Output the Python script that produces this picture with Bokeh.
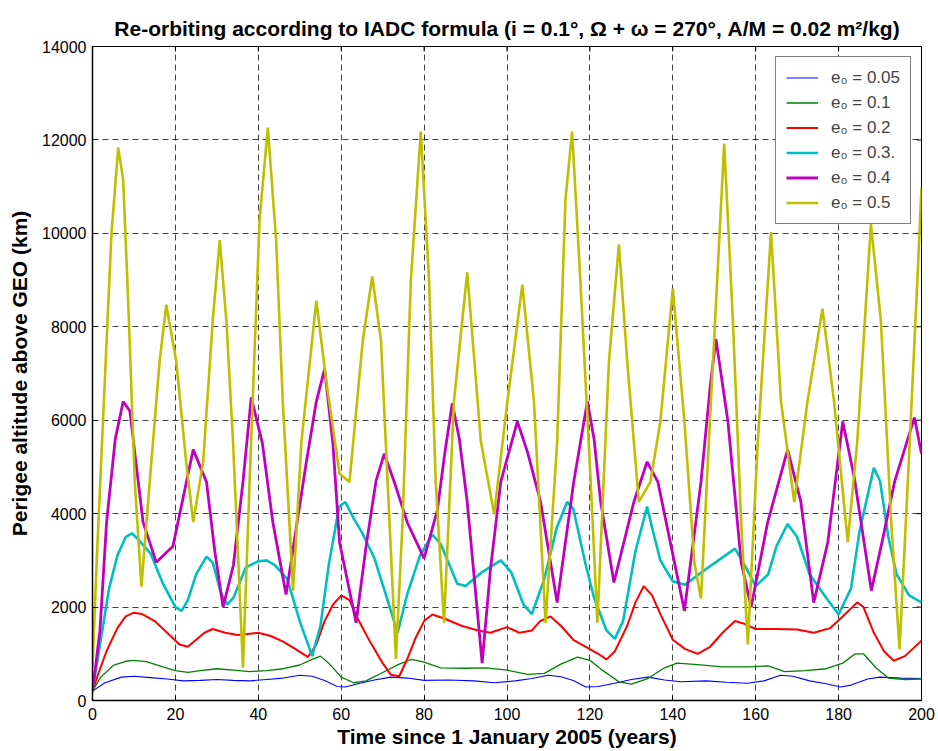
import math
from bokeh.plotting import figure
from bokeh.models import Range1d, Legend, LegendItem
from bokeh.embed import file_html
from bokeh.resources import INLINE

# ---------------- data ----------------
x_ticks = [0, 20, 40, 60, 80, 100, 120, 140, 160, 180, 200]
y_ticks = [0, 2000, 4000, 6000, 8000, 10000, 12000, 14000]

series_labels = ["e₀ = 0.05", "e₀ = 0.1", "e₀ = 0.2", "e₀ = 0.3.", "e₀ = 0.4", "e₀ = 0.5"]

t_005 = [0, 3, 7, 10, 14, 18, 22, 26, 30, 34, 38, 42, 46, 50, 53, 56, 59, 61, 64, 68, 72, 76,
         80, 86, 92, 97, 102, 106, 110, 113, 116, 119, 122, 126, 130, 134, 138, 142, 148, 153,
         158, 162, 166, 169, 173, 177, 180.5, 183, 187, 190, 195, 200]
h_005 = [200, 380, 500, 520, 490, 460, 420, 430, 450, 430, 420, 450, 480, 540, 520, 430, 300,
         290, 360, 440, 500, 480, 430, 440, 420, 380, 420, 470, 540, 510, 430, 290, 300, 370,
         450, 500, 440, 400, 420, 390, 370, 420, 540, 520, 420, 360, 290, 330, 460, 500, 480,
         470]

t_01 = [0, 2, 5, 8, 10, 13, 17, 20, 23, 26, 30, 34, 38, 42, 46, 50, 53, 55, 57, 60, 63, 66,
        70, 74, 77, 80, 84, 90, 95, 100, 105, 109, 113, 117, 120, 123, 127, 130, 134, 138, 141,
        146, 152, 158, 163, 167, 172, 177, 181, 184, 186, 189, 192, 196, 200]
h_01 = [200, 500, 750, 840, 860, 830, 720, 640, 600, 640, 680, 650, 620, 640, 680, 760, 880,
        950, 800, 500, 380, 420, 600, 780, 880, 820, 700, 690, 700, 650, 560, 580, 780, 930,
        860, 650, 400, 350, 470, 700, 800, 770, 720, 720, 740, 620, 640, 680, 800, 1000, 1000,
        700, 480, 450, 460]

t_02 = [0, 1.5, 3.4, 6, 8, 10, 12, 15, 18, 21, 23, 25, 27, 29, 32, 35, 38, 40, 43, 46, 49, 52,
        54, 56, 58, 60, 62, 64, 67, 70, 72, 74, 76, 78, 80, 82, 85, 89, 93, 96, 100, 103, 106,
        108, 110.5, 113, 116, 119, 122, 124, 126, 129, 131, 133, 135, 137, 140, 143, 146, 149,
        152, 155, 157, 160, 165, 170, 174, 178, 181, 184.5, 186, 188.5, 191, 193.3, 196, 200]
h_02 = [200, 600, 1060, 1550, 1800, 1880, 1850, 1700, 1450, 1200, 1150, 1300, 1450, 1530,
        1450, 1400, 1430, 1450, 1380, 1260, 1100, 930, 1200, 1700, 2050, 2250, 2150, 1750,
        1250, 800, 550, 520, 900, 1350, 1700, 1840, 1750, 1600, 1500, 1450, 1570, 1450, 1500,
        1700, 1800, 1600, 1300, 1150, 1000, 880, 1050, 1600, 2100, 2450, 2250, 1850, 1300,
        1100, 1000, 1150, 1450, 1700, 1650, 1530, 1530, 1520, 1450, 1550, 1800, 2100, 2000,
        1450, 1050, 850, 950, 1280]

t_03 = [0, 2, 4, 6, 8, 9.5, 11, 14, 17, 20, 21.5, 23, 25, 27.5, 29, 31, 32.5, 34, 37, 40, 42,
        44, 47, 50, 53, 55, 57, 59.5, 61, 63, 65, 68, 71, 73.6, 76, 79, 82, 84, 88, 90, 94,
        98.5, 101, 104, 106, 109, 112, 114.5, 116, 119, 121, 124, 126, 128, 131, 133.8, 135,
        137, 140, 143, 147, 151, 155, 157, 160, 163, 165, 167.7, 170, 173, 177, 180, 183, 185,
        188.5, 190, 192, 194, 197, 200]
h_03 = [200, 1300, 2400, 3100, 3500, 3580, 3450, 3150, 2500, 2000, 1920, 2150, 2700, 3080,
        2950, 2300, 2050, 2200, 2850, 2980, 3000, 2900, 2600, 1700, 950, 1600, 2900, 4150, 4250,
        3900, 3600, 3050, 2200, 1450, 2300, 3100, 3550, 3350, 2500, 2450, 2750, 3000, 2750,
        2050, 1850, 2600, 3700, 4250, 4100, 2900, 2200, 1500, 1320, 1700, 3200, 4150, 3700,
        3000, 2550, 2480, 2750, 3000, 3250, 2950, 2450, 2700, 3300, 3780, 3500, 2700, 2200,
        1840, 2400, 3600, 4980, 4700, 3500, 2700, 2250, 2100]

t_04 = [0, 1.8, 3.4, 5.5, 7.4, 9, 12.2, 15.4, 19.4, 22, 24.3, 27.5, 29.5, 31.5, 34, 36.3, 38.3,
        41, 43.5, 46.7, 49, 51.6, 54, 56, 58, 59.6, 63.6, 66, 68.4, 70.4, 72.8, 76, 80, 83.2,
        85, 86.8, 88.5, 90.4, 94, 96, 98.5, 102.5, 105, 108.1, 112.1, 116.1, 119.4, 121,
        122.6, 125.8, 130.6, 133.8, 136.4, 140.4, 142.8, 146.8, 149, 150.4, 153.3, 156.5,
        158.9, 162.9, 167.7, 170.9, 174, 177.4, 181, 183.8, 187.9, 190.5, 193.5, 198.3, 200]
h_04 = [200, 1500, 3819, 5600, 6400, 6200, 3819, 2957, 3300, 4400, 5370, 4680, 3200, 2000,
        2900, 4680, 6490, 5500, 3819, 2267, 3600, 5110, 6400, 7094, 5500, 3388, 1664, 3300,
        4700, 5284, 4680, 3800, 3043, 4077, 5300, 6362, 5600, 4250, 802, 2800, 4680, 5974,
        5300, 4250, 2095, 4680, 6405, 5600, 4250, 2526, 4250, 5110, 4680, 2957, 1922, 4680,
        6700, 7741, 5974, 2957, 2000, 3819, 5370, 4250, 2095, 3388, 5974, 4767, 2353, 3400,
        4680, 6060, 5284]

t_05 = [0, 1, 3.4, 4.6, 6.2, 7.4, 8.6, 10.2, 11.8, 13.8, 16.2, 17.8, 20.2, 22.6, 24.3, 26.7,
        29, 30.7, 32.3, 33.9, 36.3, 37.9, 40.3, 42.3, 44.3, 45.9, 48.4, 50.4, 54, 56.4, 59.6,
        62, 65.2, 67.5, 69.6, 71.2, 73.2, 74.8, 76.8, 79.2, 81.2, 82.8, 84.8, 87.2, 90.4,
        93.7, 96.9, 100.1, 103.7, 106.5, 109.3, 112.1, 114.1, 115.7, 117.7, 120.2, 121.8,
        124.6, 127, 129, 131.8, 134.6, 137, 140, 142.8, 145.2, 146.8, 149.2, 152.4, 154.5,
        156.5, 158.1, 160.5, 163.7, 166.1, 169.3, 172.5, 176.1, 178.9, 182.2, 184.5, 187.8,
        190.2, 192.7, 194.7, 196.7, 199, 200]
h_05 = [700, 2957, 7700, 10025, 11835, 11146, 8560, 4680, 2439, 4680, 7267, 8473, 7267, 5110,
        3819, 5110, 8129, 9853, 8129, 5543, 700, 4680, 10284, 12266, 9853, 6405, 2353, 5543,
        8560, 6836, 4853, 4680, 7700, 9077, 7700, 4680, 888, 3819, 8990, 12180, 8990, 4680,
        1664, 6405, 9163, 5543, 3991, 6405, 8904, 6405, 1664, 5543, 10715, 12180, 8990, 4680,
        1664, 7267, 9767, 7267, 4250, 4680, 5974, 8818, 5974, 2957, 2181, 6405, 11922, 8129,
        3819, 1200, 5543, 10025, 6405, 4250, 6405, 8387, 6405, 3388, 5543, 10200, 8129, 3819,
        1100, 4680, 8990, 10973]

series_t = [t_005, t_01, t_02, t_03, t_04, t_05]
series_h = [h_005, h_01, h_02, h_03, h_04, h_05]
colors = ["#0000FF", "#008000", "#FF0000", "#00BFBF", "#BF00BF", "#BFBF00"]
widths = [1.1, 1.3, 2.0, 2.6, 2.8, 2.6]

FONT = "Liberation Sans"

p = figure(width=938, height=751, output_backend="svg", toolbar_location=None,
           x_range=Range1d(0, 200), y_range=Range1d(0, 14000),
           min_border_left=92, min_border_right=17, min_border_top=46, min_border_bottom=51,
           background_fill_color="white", border_fill_color="white")

p.title.text = "Re-orbiting according to IADC formula (i = 0.1°, Ω + ω = 270°, A/M = 0.02 m²/kg)"
p.title.align = "center"
p.title.text_font = FONT
p.title.text_font_size = "21px"
p.title.text_font_style = "bold"
p.title.text_color = "black"
p.title.standoff = 13

p.outline_line_color = "black"
p.outline_line_width = 1

for ax in (p.xaxis[0], p.yaxis[0]):
    ax.major_tick_in = 5
    ax.major_tick_out = 0
    ax.minor_tick_line_color = None
    ax.axis_line_color = "black"
    ax.axis_line_width = 1.5
    ax.major_tick_line_color = "black"
    ax.major_label_text_font = FONT
    ax.major_label_text_font_size = "16px"
    ax.major_label_text_color = "black"
    ax.axis_label_text_font = FONT
    ax.axis_label_text_font_size = "21px"
    ax.axis_label_text_font_style = "bold"
    ax.axis_label_text_color = "black"

p.xaxis.ticker = x_ticks
p.yaxis.ticker = y_ticks
p.xaxis.axis_label = "Time since 1 January 2005 (years)"
p.yaxis.axis_label = "Perigee altitude above GEO (km)"
p.xaxis.major_label_standoff = 7
p.yaxis.major_label_standoff = 6
p.xaxis.axis_label_standoff = 2
p.yaxis.axis_label_standoff = 8

for g in (p.xgrid[0], p.ygrid[0]):
    g.grid_line_color = "black"
    g.grid_line_alpha = 0.75
    g.grid_line_dash = "6 4"
    g.grid_line_width = 1

# inward ticks on the top and right edges of the box (MATLAB style)
p.ray(x=x_ticks, y=[y_ticks[-1]] * len(x_ticks), length=5, length_units="screen",
      angle=-math.pi / 2, line_color="black", line_width=1)
p.ray(x=[x_ticks[-1]] * len(y_ticks), y=y_ticks, length=5, length_units="screen",
      angle=math.pi, line_color="black", line_width=1)

items = []
for lab, t, h, c, w in zip(series_labels, series_t, series_h, colors, widths):
    r = p.line(t, h, line_color=c, line_width=w)
    items.append(LegendItem(label=lab, renderers=[r]))

legend = Legend(items=items, location="top_right")
legend.margin = 10
legend.padding = 10
legend.spacing = 4
legend.glyph_width = 32
legend.glyph_height = 21
legend.label_height = 21
legend.label_standoff = 13
legend.label_text_font = FONT
legend.label_text_font_size = "17px"
legend.border_line_color = "black"
legend.border_line_width = 1
legend.background_fill_alpha = 1
p.add_layout(legend, "center")

open("out.html", "w").write(file_html(p, INLINE))
